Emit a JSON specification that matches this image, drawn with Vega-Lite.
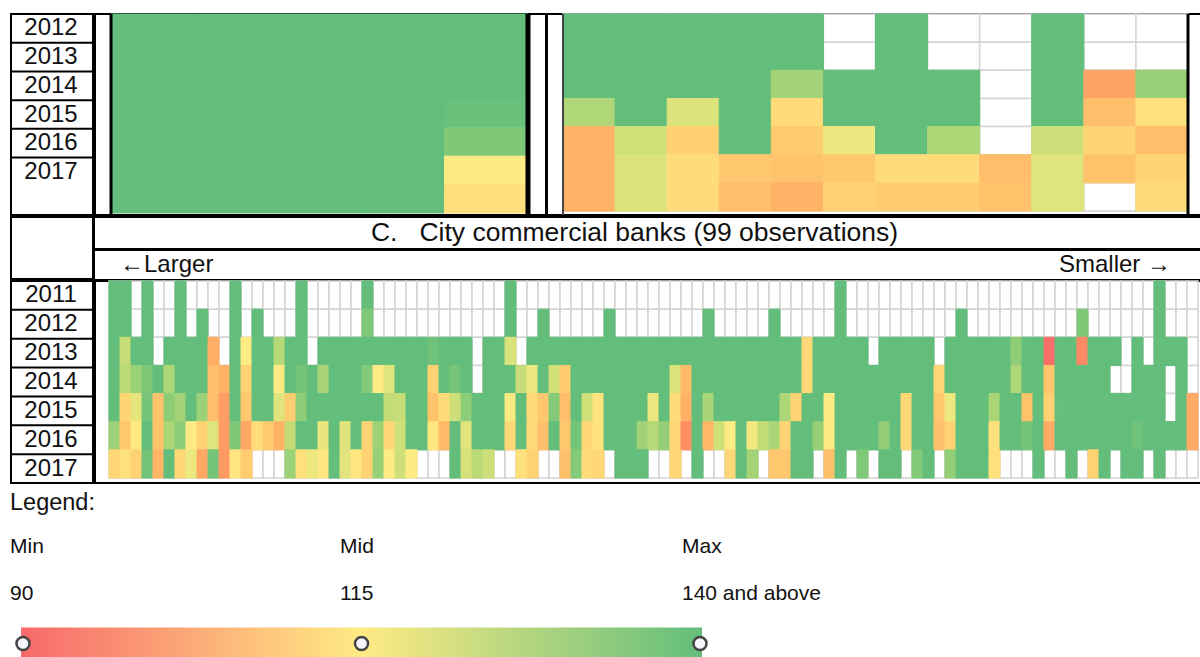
{"$schema":"https://vega.github.io/schema/vega-lite/v6.json","padding":{"left":9,"top":12,"right":0,"bottom":0},"spacing":-4,"background":"white","config":{"font":"Liberation Sans","view":{"stroke":null},"concat":{"spacing":-4},"axis":{"labels":false,"ticks":false,"domain":false,"title":null,"grid":false}},
"datasets":{
"a":[{"c":1,"y":2011,"v":140},{"c":2,"y":2011,"v":140},{"c":3,"y":2011,"v":140},{"c":4,"y":2011,"v":140},{"c":5,"y":2011,"v":140},{"c":1,"y":2012,"v":140},{"c":2,"y":2012,"v":140},{"c":3,"y":2012,"v":140},{"c":4,"y":2012,"v":140},{"c":5,"y":2012,"v":140},{"c":1,"y":2013,"v":140},{"c":2,"y":2013,"v":140},{"c":3,"y":2013,"v":140},{"c":4,"y":2013,"v":140},{"c":5,"y":2013,"v":140},{"c":1,"y":2014,"v":140},{"c":2,"y":2014,"v":140},{"c":3,"y":2014,"v":140},{"c":4,"y":2014,"v":140},{"c":5,"y":2014,"v":139},{"c":1,"y":2015,"v":140},{"c":2,"y":2015,"v":140},{"c":3,"y":2015,"v":140},{"c":4,"y":2015,"v":140},{"c":5,"y":2015,"v":135.5},{"c":1,"y":2016,"v":140},{"c":2,"y":2016,"v":140},{"c":3,"y":2016,"v":140},{"c":4,"y":2016,"v":140},{"c":5,"y":2016,"v":115},{"c":1,"y":2017,"v":140},{"c":2,"y":2017,"v":140},{"c":3,"y":2017,"v":140},{"c":4,"y":2017,"v":140},{"c":5,"y":2017,"v":112.5}],
"b":[{"c":1,"y":2011,"v":140},{"c":2,"y":2011,"v":140},{"c":3,"y":2011,"v":140},{"c":4,"y":2011,"v":140},{"c":5,"y":2011,"v":140},{"c":6,"y":2011},{"c":7,"y":2011,"v":140},{"c":8,"y":2011},{"c":9,"y":2011},{"c":10,"y":2011,"v":140},{"c":11,"y":2011},{"c":12,"y":2011},
{"c":1,"y":2012,"v":140},{"c":2,"y":2012,"v":140},{"c":3,"y":2012,"v":140},{"c":4,"y":2012,"v":140},{"c":5,"y":2012,"v":140},{"c":6,"y":2012},{"c":7,"y":2012,"v":140},{"c":8,"y":2012},{"c":9,"y":2012},{"c":10,"y":2012,"v":140},{"c":11,"y":2012},{"c":12,"y":2012},
{"c":1,"y":2013,"v":140},{"c":2,"y":2013,"v":140},{"c":3,"y":2013,"v":140},{"c":4,"y":2013,"v":140},{"c":5,"y":2013,"v":129.5},{"c":6,"y":2013,"v":140},{"c":7,"y":2013,"v":140},{"c":8,"y":2013,"v":140},{"c":9,"y":2013},{"c":10,"y":2013,"v":140},{"c":11,"y":2013,"v":101},{"c":12,"y":2013,"v":131.5},
{"c":1,"y":2014,"v":127.5},{"c":2,"y":2014,"v":140},{"c":3,"y":2014,"v":120.5},{"c":4,"y":2014,"v":140},{"c":5,"y":2014,"v":112},{"c":6,"y":2014,"v":140},{"c":7,"y":2014,"v":140},{"c":8,"y":2014,"v":140},{"c":9,"y":2014},{"c":10,"y":2014,"v":140},{"c":11,"y":2014,"v":106.3},{"c":12,"y":2014,"v":113},
{"c":1,"y":2015,"v":104},{"c":2,"y":2015,"v":122.5},{"c":3,"y":2015,"v":109.5},{"c":4,"y":2015,"v":140},{"c":5,"y":2015,"v":108.5},{"c":6,"y":2015,"v":118},{"c":7,"y":2015,"v":140},{"c":8,"y":2015,"v":128},{"c":9,"y":2015},{"c":10,"y":2015,"v":123},{"c":11,"y":2015,"v":110.5},{"c":12,"y":2015,"v":106},
{"c":1,"y":2016,"v":104},{"c":2,"y":2016,"v":120.5},{"c":3,"y":2016,"v":112},{"c":4,"y":2016,"v":108},{"c":5,"y":2016,"v":107},{"c":6,"y":2016,"v":108},{"c":7,"y":2016,"v":112},{"c":8,"y":2016,"v":112},{"c":9,"y":2016,"v":106},{"c":10,"y":2016,"v":120},{"c":11,"y":2016,"v":107},{"c":12,"y":2016,"v":110.5},
{"c":1,"y":2017,"v":103.7},{"c":2,"y":2017,"v":120.5},{"c":3,"y":2017,"v":112},{"c":4,"y":2017,"v":106},{"c":5,"y":2017,"v":104},{"c":6,"y":2017,"v":109.8},{"c":7,"y":2017,"v":109},{"c":8,"y":2017,"v":109},{"c":9,"y":2017,"v":107},{"c":10,"y":2017,"v":120},{"c":11,"y":2017},{"c":12,"y":2017,"v":112}],
"c":[{"c":1,"y":2011,"v":140},{"c":2,"y":2011,"v":140},{"c":3,"y":2011},{"c":4,"y":2011,"v":140},{"c":5,"y":2011},{"c":6,"y":2011},{"c":7,"y":2011,"v":140},{"c":8,"y":2011},{"c":9,"y":2011},{"c":10,"y":2011},{"c":11,"y":2011},{"c":12,"y":2011,"v":140},{"c":13,"y":2011},{"c":14,"y":2011},{"c":15,"y":2011},{"c":16,"y":2011},{"c":17,"y":2011},{"c":18,"y":2011,"v":140},{"c":19,"y":2011},{"c":20,"y":2011},{"c":21,"y":2011},{"c":22,"y":2011},{"c":23,"y":2011},{"c":24,"y":2011,"v":140},{"c":25,"y":2011},{"c":26,"y":2011},{"c":27,"y":2011},{"c":28,"y":2011},{"c":29,"y":2011},{"c":30,"y":2011},{"c":31,"y":2011},{"c":32,"y":2011},{"c":33,"y":2011},{"c":34,"y":2011},{"c":35,"y":2011},{"c":36,"y":2011},{"c":37,"y":2011,"v":140},{"c":38,"y":2011},{"c":39,"y":2011},{"c":40,"y":2011},{"c":41,"y":2011},{"c":42,"y":2011},{"c":43,"y":2011},{"c":44,"y":2011},{"c":45,"y":2011},{"c":46,"y":2011},{"c":47,"y":2011},{"c":48,"y":2011},{"c":49,"y":2011},{"c":50,"y":2011},{"c":51,"y":2011},{"c":52,"y":2011},{"c":53,"y":2011},{"c":54,"y":2011},{"c":55,"y":2011},{"c":56,"y":2011},{"c":57,"y":2011},{"c":58,"y":2011},{"c":59,"y":2011},{"c":60,"y":2011},{"c":61,"y":2011},{"c":62,"y":2011},{"c":63,"y":2011},{"c":64,"y":2011},{"c":65,"y":2011},{"c":66,"y":2011},{"c":67,"y":2011,"v":140},{"c":68,"y":2011},{"c":69,"y":2011},{"c":70,"y":2011},{"c":71,"y":2011},{"c":72,"y":2011},{"c":73,"y":2011},{"c":74,"y":2011},{"c":75,"y":2011},{"c":76,"y":2011},{"c":77,"y":2011},{"c":78,"y":2011},{"c":79,"y":2011},{"c":80,"y":2011},{"c":81,"y":2011},{"c":82,"y":2011},{"c":83,"y":2011},{"c":84,"y":2011},{"c":85,"y":2011},{"c":86,"y":2011},{"c":87,"y":2011},{"c":88,"y":2011},{"c":89,"y":2011},{"c":90,"y":2011},{"c":91,"y":2011},{"c":92,"y":2011},{"c":93,"y":2011},{"c":94,"y":2011},{"c":95,"y":2011},{"c":96,"y":2011,"v":140},{"c":97,"y":2011},{"c":98,"y":2011},{"c":99,"y":2011},
{"c":1,"y":2012,"v":140},{"c":2,"y":2012,"v":140},{"c":3,"y":2012},{"c":4,"y":2012,"v":140},{"c":5,"y":2012},{"c":6,"y":2012},{"c":7,"y":2012,"v":140},{"c":8,"y":2012},{"c":9,"y":2012,"v":140},{"c":10,"y":2012},{"c":11,"y":2012},{"c":12,"y":2012,"v":140},{"c":13,"y":2012},{"c":14,"y":2012,"v":140},{"c":15,"y":2012},{"c":16,"y":2012},{"c":17,"y":2012},{"c":18,"y":2012,"v":140},{"c":19,"y":2012},{"c":20,"y":2012},{"c":21,"y":2012},{"c":22,"y":2012},{"c":23,"y":2012},{"c":24,"y":2012,"v":135.5},{"c":25,"y":2012},{"c":26,"y":2012},{"c":27,"y":2012},{"c":28,"y":2012},{"c":29,"y":2012},{"c":30,"y":2012},{"c":31,"y":2012},{"c":32,"y":2012},{"c":33,"y":2012},{"c":34,"y":2012},{"c":35,"y":2012},{"c":36,"y":2012},{"c":37,"y":2012,"v":140},{"c":38,"y":2012},{"c":39,"y":2012},{"c":40,"y":2012,"v":140},{"c":41,"y":2012},{"c":42,"y":2012},{"c":43,"y":2012},{"c":44,"y":2012},{"c":45,"y":2012},{"c":46,"y":2012,"v":140},{"c":47,"y":2012},{"c":48,"y":2012},{"c":49,"y":2012},{"c":50,"y":2012},{"c":51,"y":2012},{"c":52,"y":2012},{"c":53,"y":2012},{"c":54,"y":2012},{"c":55,"y":2012,"v":140},{"c":56,"y":2012},{"c":57,"y":2012},{"c":58,"y":2012},{"c":59,"y":2012},{"c":60,"y":2012},{"c":61,"y":2012,"v":140},{"c":62,"y":2012},{"c":63,"y":2012},{"c":64,"y":2012},{"c":65,"y":2012},{"c":66,"y":2012},{"c":67,"y":2012,"v":140},{"c":68,"y":2012},{"c":69,"y":2012},{"c":70,"y":2012},{"c":71,"y":2012},{"c":72,"y":2012},{"c":73,"y":2012},{"c":74,"y":2012},{"c":75,"y":2012},{"c":76,"y":2012},{"c":77,"y":2012},{"c":78,"y":2012,"v":140},{"c":79,"y":2012},{"c":80,"y":2012},{"c":81,"y":2012},{"c":82,"y":2012},{"c":83,"y":2012},{"c":84,"y":2012},{"c":85,"y":2012},{"c":86,"y":2012},{"c":87,"y":2012},{"c":88,"y":2012},{"c":89,"y":2012,"v":135.5},{"c":90,"y":2012},{"c":91,"y":2012},{"c":92,"y":2012},{"c":93,"y":2012},{"c":94,"y":2012},{"c":95,"y":2012},{"c":96,"y":2012,"v":140},{"c":97,"y":2012},{"c":98,"y":2012},{"c":99,"y":2012},
{"c":1,"y":2013,"v":140},{"c":2,"y":2013,"v":124},{"c":3,"y":2013,"v":140},{"c":4,"y":2013,"v":140},{"c":5,"y":2013},{"c":6,"y":2013,"v":140},{"c":7,"y":2013,"v":140},{"c":8,"y":2013,"v":140},{"c":9,"y":2013,"v":140},{"c":10,"y":2013,"v":103},{"c":11,"y":2013},{"c":12,"y":2013,"v":140},{"c":13,"y":2013,"v":115},{"c":14,"y":2013,"v":140},{"c":15,"y":2013,"v":140},{"c":16,"y":2013,"v":126.5},{"c":17,"y":2013,"v":140},{"c":18,"y":2013,"v":140},{"c":19,"y":2013},{"c":20,"y":2013,"v":140},{"c":21,"y":2013,"v":140},{"c":22,"y":2013,"v":140},{"c":23,"y":2013,"v":140},{"c":24,"y":2013,"v":140},{"c":25,"y":2013,"v":140},{"c":26,"y":2013,"v":140},{"c":27,"y":2013,"v":140},{"c":28,"y":2013,"v":140},{"c":29,"y":2013,"v":140},{"c":30,"y":2013,"v":138},{"c":31,"y":2013,"v":140},{"c":32,"y":2013,"v":140},{"c":33,"y":2013,"v":140},{"c":34,"y":2013},{"c":35,"y":2013,"v":140},{"c":36,"y":2013,"v":140},{"c":37,"y":2013,"v":121},{"c":38,"y":2013},{"c":39,"y":2013,"v":140},{"c":40,"y":2013,"v":140},{"c":41,"y":2013,"v":140},{"c":42,"y":2013,"v":140},{"c":43,"y":2013,"v":140},{"c":44,"y":2013,"v":140},{"c":45,"y":2013,"v":140},{"c":46,"y":2013,"v":140},{"c":47,"y":2013,"v":140},{"c":48,"y":2013,"v":140},{"c":49,"y":2013,"v":140},{"c":50,"y":2013,"v":140},{"c":51,"y":2013,"v":140},{"c":52,"y":2013,"v":140},{"c":53,"y":2013,"v":140},{"c":54,"y":2013,"v":140},{"c":55,"y":2013,"v":140},{"c":56,"y":2013,"v":140},{"c":57,"y":2013,"v":140},{"c":58,"y":2013,"v":140},{"c":59,"y":2013,"v":140},{"c":60,"y":2013,"v":140},{"c":61,"y":2013,"v":140},{"c":62,"y":2013,"v":140},{"c":63,"y":2013,"v":140},{"c":64,"y":2013,"v":111},{"c":65,"y":2013,"v":140},{"c":66,"y":2013,"v":140},{"c":67,"y":2013,"v":140},{"c":68,"y":2013,"v":140},{"c":69,"y":2013,"v":140},{"c":70,"y":2013},{"c":71,"y":2013,"v":140},{"c":72,"y":2013,"v":140},{"c":73,"y":2013,"v":140},{"c":74,"y":2013,"v":140},{"c":75,"y":2013,"v":140},{"c":76,"y":2013},{"c":77,"y":2013,"v":140},{"c":78,"y":2013,"v":140},{"c":79,"y":2013,"v":140},{"c":80,"y":2013,"v":140},{"c":81,"y":2013,"v":140},{"c":82,"y":2013,"v":140},{"c":83,"y":2013,"v":133},{"c":84,"y":2013,"v":140},{"c":85,"y":2013,"v":140},{"c":86,"y":2013,"v":91},{"c":87,"y":2013,"v":140},{"c":88,"y":2013,"v":140},{"c":89,"y":2013,"v":96},{"c":90,"y":2013,"v":140},{"c":91,"y":2013,"v":140},{"c":92,"y":2013,"v":140},{"c":93,"y":2013},{"c":94,"y":2013,"v":140},{"c":95,"y":2013},{"c":96,"y":2013,"v":140},{"c":97,"y":2013,"v":140},{"c":98,"y":2013,"v":140},{"c":99,"y":2013},
{"c":1,"y":2014,"v":140},{"c":2,"y":2014,"v":126},{"c":3,"y":2014,"v":131},{"c":4,"y":2014,"v":135.5},{"c":5,"y":2014,"v":140},{"c":6,"y":2014,"v":128},{"c":7,"y":2014,"v":140},{"c":8,"y":2014,"v":140},{"c":9,"y":2014,"v":140},{"c":10,"y":2014,"v":106},{"c":11,"y":2014,"v":103.5},{"c":12,"y":2014,"v":140},{"c":13,"y":2014,"v":110},{"c":14,"y":2014,"v":140},{"c":15,"y":2014,"v":140},{"c":16,"y":2014,"v":115},{"c":17,"y":2014,"v":140},{"c":18,"y":2014,"v":137},{"c":19,"y":2014,"v":140},{"c":20,"y":2014,"v":128.5},{"c":21,"y":2014,"v":140},{"c":22,"y":2014,"v":140},{"c":23,"y":2014,"v":140},{"c":24,"y":2014,"v":134.5},{"c":25,"y":2014,"v":115},{"c":26,"y":2014,"v":120},{"c":27,"y":2014,"v":140},{"c":28,"y":2014,"v":140},{"c":29,"y":2014,"v":140},{"c":30,"y":2014,"v":110},{"c":31,"y":2014,"v":140},{"c":32,"y":2014,"v":137},{"c":33,"y":2014,"v":140},{"c":34,"y":2014},{"c":35,"y":2014,"v":140},{"c":36,"y":2014,"v":140},{"c":37,"y":2014,"v":140},{"c":38,"y":2014,"v":124},{"c":39,"y":2014,"v":118},{"c":40,"y":2014,"v":140},{"c":41,"y":2014,"v":122},{"c":42,"y":2014,"v":109},{"c":43,"y":2014,"v":140},{"c":44,"y":2014,"v":140},{"c":45,"y":2014,"v":140},{"c":46,"y":2014,"v":140},{"c":47,"y":2014,"v":140},{"c":48,"y":2014,"v":140},{"c":49,"y":2014,"v":140},{"c":50,"y":2014,"v":140},{"c":51,"y":2014,"v":140},{"c":52,"y":2014,"v":121},{"c":53,"y":2014,"v":105.5},{"c":54,"y":2014,"v":140},{"c":55,"y":2014,"v":140},{"c":56,"y":2014,"v":140},{"c":57,"y":2014,"v":140},{"c":58,"y":2014,"v":140},{"c":59,"y":2014,"v":140},{"c":60,"y":2014,"v":140},{"c":61,"y":2014,"v":140},{"c":62,"y":2014,"v":140},{"c":63,"y":2014,"v":140},{"c":64,"y":2014,"v":111},{"c":65,"y":2014,"v":140},{"c":66,"y":2014,"v":140},{"c":67,"y":2014,"v":140},{"c":68,"y":2014,"v":140},{"c":69,"y":2014,"v":140},{"c":70,"y":2014,"v":140},{"c":71,"y":2014,"v":140},{"c":72,"y":2014,"v":140},{"c":73,"y":2014,"v":140},{"c":74,"y":2014,"v":140},{"c":75,"y":2014,"v":140},{"c":76,"y":2014,"v":111},{"c":77,"y":2014,"v":140},{"c":78,"y":2014,"v":140},{"c":79,"y":2014,"v":140},{"c":80,"y":2014,"v":140},{"c":81,"y":2014,"v":140},{"c":82,"y":2014,"v":140},{"c":83,"y":2014,"v":128},{"c":84,"y":2014,"v":140},{"c":85,"y":2014,"v":140},{"c":86,"y":2014,"v":107.5},{"c":87,"y":2014,"v":140},{"c":88,"y":2014,"v":140},{"c":89,"y":2014,"v":140},{"c":90,"y":2014,"v":140},{"c":91,"y":2014,"v":140},{"c":92,"y":2014},{"c":93,"y":2014},{"c":94,"y":2014,"v":140},{"c":95,"y":2014,"v":140},{"c":96,"y":2014,"v":140},{"c":97,"y":2014},{"c":98,"y":2014,"v":140},{"c":99,"y":2014},
{"c":1,"y":2015,"v":140},{"c":2,"y":2015,"v":110.5},{"c":3,"y":2015,"v":119},{"c":4,"y":2015,"v":137},{"c":5,"y":2015,"v":107},{"c":6,"y":2015,"v":133},{"c":7,"y":2015,"v":129.5},{"c":8,"y":2015,"v":140},{"c":9,"y":2015,"v":131},{"c":10,"y":2015,"v":106},{"c":11,"y":2015,"v":100},{"c":12,"y":2015,"v":140},{"c":13,"y":2015,"v":108},{"c":14,"y":2015,"v":140},{"c":15,"y":2015,"v":140},{"c":16,"y":2015,"v":120},{"c":17,"y":2015,"v":109},{"c":18,"y":2015,"v":133},{"c":19,"y":2015,"v":140},{"c":20,"y":2015,"v":140},{"c":21,"y":2015,"v":140},{"c":22,"y":2015,"v":140},{"c":23,"y":2015,"v":140},{"c":24,"y":2015,"v":140},{"c":25,"y":2015,"v":140},{"c":26,"y":2015,"v":124.5},{"c":27,"y":2015,"v":124},{"c":28,"y":2015,"v":140},{"c":29,"y":2015,"v":140},{"c":30,"y":2015,"v":107},{"c":31,"y":2015,"v":112},{"c":32,"y":2015,"v":123},{"c":33,"y":2015,"v":133},{"c":34,"y":2015,"v":140},{"c":35,"y":2015,"v":140},{"c":36,"y":2015,"v":140},{"c":37,"y":2015,"v":116},{"c":38,"y":2015,"v":140},{"c":39,"y":2015,"v":111.5},{"c":40,"y":2015,"v":108},{"c":41,"y":2015,"v":134.5},{"c":42,"y":2015,"v":106},{"c":43,"y":2015,"v":140},{"c":44,"y":2015,"v":122.5},{"c":45,"y":2015,"v":113.5},{"c":46,"y":2015,"v":140},{"c":47,"y":2015,"v":140},{"c":48,"y":2015,"v":140},{"c":49,"y":2015,"v":140},{"c":50,"y":2015,"v":118},{"c":51,"y":2015,"v":140},{"c":52,"y":2015,"v":112},{"c":53,"y":2015,"v":103.7},{"c":54,"y":2015,"v":140},{"c":55,"y":2015,"v":128.5},{"c":56,"y":2015,"v":140},{"c":57,"y":2015,"v":140},{"c":58,"y":2015,"v":140},{"c":59,"y":2015,"v":140},{"c":60,"y":2015,"v":140},{"c":61,"y":2015,"v":140},{"c":62,"y":2015,"v":128},{"c":63,"y":2015,"v":110},{"c":64,"y":2015,"v":140},{"c":65,"y":2015,"v":140},{"c":66,"y":2015,"v":115},{"c":67,"y":2015,"v":140},{"c":68,"y":2015,"v":140},{"c":69,"y":2015,"v":140},{"c":70,"y":2015,"v":140},{"c":71,"y":2015,"v":140},{"c":72,"y":2015,"v":140},{"c":73,"y":2015,"v":111},{"c":74,"y":2015,"v":140},{"c":75,"y":2015,"v":140},{"c":76,"y":2015,"v":108},{"c":77,"y":2015,"v":118},{"c":78,"y":2015,"v":140},{"c":79,"y":2015,"v":140},{"c":80,"y":2015,"v":140},{"c":81,"y":2015,"v":128.5},{"c":82,"y":2015,"v":140},{"c":83,"y":2015,"v":140},{"c":84,"y":2015,"v":107},{"c":85,"y":2015,"v":140},{"c":86,"y":2015,"v":110},{"c":87,"y":2015,"v":139.5},{"c":88,"y":2015,"v":140},{"c":89,"y":2015,"v":140},{"c":90,"y":2015,"v":140},{"c":91,"y":2015,"v":140},{"c":92,"y":2015,"v":140},{"c":93,"y":2015,"v":140},{"c":94,"y":2015,"v":140},{"c":95,"y":2015,"v":140},{"c":96,"y":2015,"v":140},{"c":97,"y":2015},{"c":98,"y":2015,"v":140},{"c":99,"y":2015,"v":102.5},
{"c":1,"y":2016,"v":131},{"c":2,"y":2016,"v":108},{"c":3,"y":2016,"v":114.5},{"c":4,"y":2016,"v":140},{"c":5,"y":2016,"v":107},{"c":6,"y":2016,"v":128},{"c":7,"y":2016,"v":133},{"c":8,"y":2016,"v":115},{"c":9,"y":2016,"v":110},{"c":10,"y":2016,"v":120},{"c":11,"y":2016,"v":100},{"c":12,"y":2016,"v":135.5},{"c":13,"y":2016,"v":102},{"c":14,"y":2016,"v":112},{"c":15,"y":2016,"v":108.5},{"c":16,"y":2016,"v":104},{"c":17,"y":2016,"v":124.5},{"c":18,"y":2016,"v":140},{"c":19,"y":2016,"v":140},{"c":20,"y":2016,"v":118.5},{"c":21,"y":2016,"v":140},{"c":22,"y":2016,"v":120},{"c":23,"y":2016,"v":140},{"c":24,"y":2016,"v":110},{"c":25,"y":2016,"v":130.5},{"c":26,"y":2016,"v":111},{"c":27,"y":2016,"v":122.5},{"c":28,"y":2016,"v":140},{"c":29,"y":2016,"v":140},{"c":30,"y":2016,"v":114},{"c":31,"y":2016,"v":105.5},{"c":32,"y":2016,"v":140},{"c":33,"y":2016,"v":119.5},{"c":34,"y":2016,"v":140},{"c":35,"y":2016,"v":140},{"c":36,"y":2016,"v":140},{"c":37,"y":2016,"v":111},{"c":38,"y":2016,"v":140},{"c":39,"y":2016,"v":111.5},{"c":40,"y":2016,"v":106.5},{"c":41,"y":2016,"v":140},{"c":42,"y":2016,"v":108},{"c":43,"y":2016,"v":137.5},{"c":44,"y":2016,"v":111},{"c":45,"y":2016,"v":113.5},{"c":46,"y":2016,"v":140},{"c":47,"y":2016,"v":140},{"c":48,"y":2016,"v":140},{"c":49,"y":2016,"v":130},{"c":50,"y":2016,"v":126.5},{"c":51,"y":2016,"v":132},{"c":52,"y":2016,"v":111},{"c":53,"y":2016,"v":97},{"c":54,"y":2016,"v":140},{"c":55,"y":2016,"v":104.5},{"c":56,"y":2016,"v":122.5},{"c":57,"y":2016,"v":115},{"c":58,"y":2016,"v":140},{"c":59,"y":2016,"v":117},{"c":60,"y":2016,"v":124.5},{"c":61,"y":2016,"v":128.5},{"c":62,"y":2016,"v":110},{"c":63,"y":2016,"v":140},{"c":64,"y":2016,"v":140},{"c":65,"y":2016,"v":131.5},{"c":66,"y":2016,"v":115},{"c":67,"y":2016,"v":140},{"c":68,"y":2016,"v":140},{"c":69,"y":2016,"v":140},{"c":70,"y":2016,"v":140},{"c":71,"y":2016,"v":132},{"c":72,"y":2016,"v":140},{"c":73,"y":2016,"v":111},{"c":74,"y":2016,"v":140},{"c":75,"y":2016,"v":140},{"c":76,"y":2016,"v":106.5},{"c":77,"y":2016,"v":110},{"c":78,"y":2016,"v":140},{"c":79,"y":2016,"v":140},{"c":80,"y":2016,"v":140},{"c":81,"y":2016,"v":113},{"c":82,"y":2016,"v":140},{"c":83,"y":2016,"v":140},{"c":84,"y":2016,"v":137},{"c":85,"y":2016,"v":140},{"c":86,"y":2016,"v":102.5},{"c":87,"y":2016,"v":140},{"c":88,"y":2016,"v":140},{"c":89,"y":2016,"v":140},{"c":90,"y":2016,"v":140},{"c":91,"y":2016,"v":140},{"c":92,"y":2016,"v":140},{"c":93,"y":2016,"v":140},{"c":94,"y":2016,"v":138},{"c":95,"y":2016,"v":140},{"c":96,"y":2016,"v":140},{"c":97,"y":2016,"v":140},{"c":98,"y":2016,"v":140},{"c":99,"y":2016,"v":102.5},
{"c":1,"y":2017,"v":111},{"c":2,"y":2017,"v":113},{"c":3,"y":2017,"v":110},{"c":4,"y":2017,"v":137.5},{"c":5,"y":2017,"v":104.5},{"c":6,"y":2017,"v":140},{"c":7,"y":2017,"v":111},{"c":8,"y":2017,"v":118},{"c":9,"y":2017,"v":102},{"c":10,"y":2017,"v":137},{"c":11,"y":2017,"v":99},{"c":12,"y":2017,"v":114},{"c":13,"y":2017,"v":109},{"c":14,"y":2017},{"c":15,"y":2017},{"c":16,"y":2017},{"c":17,"y":2017,"v":131},{"c":18,"y":2017,"v":113},{"c":19,"y":2017,"v":118},{"c":20,"y":2017,"v":114},{"c":21,"y":2017,"v":140},{"c":22,"y":2017,"v":119.5},{"c":23,"y":2017,"v":114},{"c":24,"y":2017,"v":110},{"c":25,"y":2017,"v":131.5},{"c":26,"y":2017,"v":115},{"c":27,"y":2017,"v":122.5},{"c":28,"y":2017,"v":115},{"c":29,"y":2017},{"c":30,"y":2017},{"c":31,"y":2017},{"c":32,"y":2017,"v":140},{"c":33,"y":2017,"v":121.5},{"c":34,"y":2017,"v":126},{"c":35,"y":2017,"v":123},{"c":36,"y":2017},{"c":37,"y":2017},{"c":38,"y":2017,"v":113},{"c":39,"y":2017,"v":110},{"c":40,"y":2017},{"c":41,"y":2017},{"c":42,"y":2017,"v":106.5},{"c":43,"y":2017,"v":134.5},{"c":44,"y":2017,"v":112},{"c":45,"y":2017,"v":111},{"c":46,"y":2017},{"c":47,"y":2017,"v":140},{"c":48,"y":2017,"v":140},{"c":49,"y":2017,"v":140},{"c":50,"y":2017},{"c":51,"y":2017},{"c":52,"y":2017,"v":111},{"c":53,"y":2017},{"c":54,"y":2017,"v":140},{"c":55,"y":2017},{"c":56,"y":2017},{"c":57,"y":2017,"v":111},{"c":58,"y":2017,"v":140},{"c":59,"y":2017,"v":129.5},{"c":60,"y":2017},{"c":61,"y":2017,"v":108},{"c":62,"y":2017,"v":108},{"c":63,"y":2017,"v":140},{"c":64,"y":2017,"v":140},{"c":65,"y":2017},{"c":66,"y":2017,"v":106.5},{"c":67,"y":2017,"v":140},{"c":68,"y":2017},{"c":69,"y":2017,"v":135.5},{"c":70,"y":2017},{"c":71,"y":2017,"v":140},{"c":72,"y":2017,"v":140},{"c":73,"y":2017},{"c":74,"y":2017,"v":135},{"c":75,"y":2017,"v":140},{"c":76,"y":2017},{"c":77,"y":2017,"v":132},{"c":78,"y":2017,"v":140},{"c":79,"y":2017,"v":140},{"c":80,"y":2017,"v":140},{"c":81,"y":2017,"v":113},{"c":82,"y":2017},{"c":83,"y":2017},{"c":84,"y":2017},{"c":85,"y":2017,"v":140},{"c":86,"y":2017},{"c":87,"y":2017},{"c":88,"y":2017,"v":140},{"c":89,"y":2017},{"c":90,"y":2017,"v":110},{"c":91,"y":2017,"v":140},{"c":92,"y":2017},{"c":93,"y":2017,"v":140},{"c":94,"y":2017,"v":140},{"c":95,"y":2017},{"c":96,"y":2017,"v":140},{"c":97,"y":2017},{"c":98,"y":2017},{"c":99,"y":2017}]},
"vconcat":[
{"spacing":-4,"hconcat":[
{"width":82,"height":201,"view":{"stroke":"black","strokeWidth":2},"data":{"values":[{"year":"2012"},{"year":"2013"},{"year":"2014"},{"year":"2015"},{"year":"2016"},{"year":"2017"}]},
"encoding":{"y":{"field":"year","type":"nominal","scale":{"type":"band","domain":["2012","2013","2014","2015","2016","2017","2018"]},"axis":null}},
"layer":[{"mark":{"type":"text","fontSize":24,"color":"#111","dx":-1},"encoding":{"text":{"field":"year"}}},{"transform":[{"filter":"datum.year != '2017'"}],"mark":{"type":"rule","color":"black","strokeWidth":2},"encoding":{"y":{"field":"year","type":"nominal","bandPosition":1}}}]},
{"width":451,"height":201,"view":{"stroke":"black","strokeWidth":2},
"layer":[{"data":{"name":"a"},"mark":{"type":"rect","strokeWidth":1},"encoding":{"x":{"field":"c","type":"ordinal","axis":null,"scale":{"type":"band","domain":[1,2,3,4,5],"range":[16,433]}},"y":{"field":"y","type":"ordinal","axis":null,"scale":{"type":"band","domain":[2011,2012,2013,2014,2015,2016,2017],"range":[0,199]}},"color":{"field":"v","type":"quantitative","legend":null,"scale":{"domain":[90,115,140],"range":["#f8696b","#ffeb84","#63be7b"],"clamp":true}},"stroke":{"field":"v","type":"quantitative","legend":null,"scale":{"domain":[90,115,140],"range":["#f8696b","#ffeb84","#63be7b"],"clamp":true}}}},
{"data":{"values":[{"c":1}]},"mark":{"type":"rule","color":"black","strokeWidth":2,"xOffset":-0.5},"encoding":{"x":{"field":"c","type":"ordinal","bandPosition":0}}},
{"data":{"values":[{"c":1}]},"mark":{"type":"rule","color":"black","strokeWidth":2,"xOffset":0.5},"encoding":{"x":{"field":"c","type":"ordinal","bandPosition":0}}},
{"data":{"values":[{"c":5}]},"mark":{"type":"rule","color":"black","strokeWidth":2,"xOffset":-1.5},"encoding":{"x":{"field":"c","type":"ordinal","bandPosition":1}}},
{"data":{"values":[{"c":5}]},"mark":{"type":"rule","color":"black","strokeWidth":2,"xOffset":0},"encoding":{"x":{"field":"c","type":"ordinal","bandPosition":1}}},
{"data":{"values":[{"c":5}]},"mark":{"type":"rule","color":"black","strokeWidth":2,"xOffset":1.5},"encoding":{"x":{"field":"c","type":"ordinal","bandPosition":1}}}]},
{"width":654,"height":201,"view":{"stroke":"black","strokeWidth":2},
"layer":[{"data":{"name":"b"},"mark":{"type":"rect","fill":"white","stroke":"#d4d4d4","strokeWidth":1.5},"encoding":{"x":{"field":"c","type":"ordinal","axis":null,"scale":{"type":"band","domain":[1,2,3,4,5,6,7,8,9,10,11,12],"range":[16,641]}},"y":{"field":"y","type":"ordinal","axis":null,"scale":{"type":"band","domain":[2011,2012,2013,2014,2015,2016,2017],"range":[0,197]}}}},
{"data":{"name":"b"},"transform":[{"filter":"isValid(datum.v)"}],"mark":{"type":"rect","strokeWidth":1},"encoding":{"x":{"field":"c","type":"ordinal"},"y":{"field":"y","type":"ordinal"},"color":{"field":"v","type":"quantitative","legend":null,"scale":{"domain":[90,115,140],"range":["#f8696b","#ffeb84","#63be7b"],"clamp":true}},"stroke":{"field":"v","type":"quantitative","legend":null,"scale":{"domain":[90,115,140],"range":["#f8696b","#ffeb84","#63be7b"],"clamp":true}}}},
{"data":{"values":[{"c":1}]},"mark":{"type":"rule","color":"#444","strokeWidth":2},"encoding":{"x":{"field":"c","type":"ordinal","bandPosition":0}}},
{"data":{"values":[{"c":12}]},"mark":{"type":"rule","color":"black","strokeWidth":2,"xOffset":-0.5},"encoding":{"x":{"field":"c","type":"ordinal","bandPosition":1}}},
{"data":{"values":[{"c":12}]},"mark":{"type":"rule","color":"black","strokeWidth":2,"xOffset":0.5},"encoding":{"x":{"field":"c","type":"ordinal","bandPosition":1}}}]}
]},
{"spacing":-4,"hconcat":[
{"width":82,"height":62,"view":{"stroke":"black","strokeWidth":2},"data":{"values":[{"cell":"blank"}]},"mark":{"type":"rule","opacity":0},"encoding":{}},
{"spacing":-4,"vconcat":[
{"width":1107,"height":32,"view":{"stroke":"black","strokeWidth":2},"data":{"values":[{"label":"C.\u00a0\u00a0\u00a0City commercial banks (99 observations)"}]},"mark":{"type":"text","fontSize":26.5,"dx":-13,"color":"#111"},"encoding":{"text":{"field":"label"}}},
{"width":1107,"height":30,"view":{"stroke":"black","strokeWidth":2},"data":{"values":[{"side":"larger","label":"←Larger"},{"side":"smaller","label":"Smaller →"}]},"encoding":{"x":{"field":"side","type":"nominal","axis":null,"scale":{"type":"point","padding":0,"domain":["larger","smaller"],"range":[26,1077]}},"text":{"field":"label"}},
"layer":[{"transform":[{"filter":"datum.side == 'larger'"}],"mark":{"type":"text","fontSize":24,"align":"left","color":"#111"}},{"transform":[{"filter":"datum.side == 'smaller'"}],"mark":{"type":"text","fontSize":24,"align":"right","color":"#111"}}]}
]}
]},
{"spacing":-4,"hconcat":[
{"width":82,"height":202,"view":{"stroke":"black","strokeWidth":2},"data":{"values":[{"year":"2011"},{"year":"2012"},{"year":"2013"},{"year":"2014"},{"year":"2015"},{"year":"2016"},{"year":"2017"}]},
"encoding":{"y":{"field":"year","type":"nominal","axis":null,"scale":{"type":"band"}}},
"layer":[{"mark":{"type":"text","fontSize":24,"color":"#111","dx":-1},"encoding":{"text":{"field":"year"}}},{"transform":[{"filter":"datum.year != '2017'"}],"mark":{"type":"rule","color":"black","strokeWidth":2},"encoding":{"y":{"field":"year","type":"nominal","bandPosition":1}}}]},
{"width":1107,"height":202,"view":{"stroke":"black","strokeWidth":2},
"layer":[{"data":{"name":"c"},"mark":{"type":"rect","fill":"white","stroke":"#d4d4d4","strokeWidth":1.5},"encoding":{"x":{"field":"c","type":"ordinal","axis":null,"scale":{"type":"band","range":[14,1103]}},"y":{"field":"y","type":"ordinal","axis":null,"scale":{"type":"band","domain":[2011,2012,2013,2014,2015,2016,2017],"range":[0,197]}}}},
{"data":{"name":"c"},"transform":[{"filter":"isValid(datum.v)"}],"mark":{"type":"rect","strokeWidth":1},"encoding":{"x":{"field":"c","type":"ordinal"},"y":{"field":"y","type":"ordinal"},"color":{"field":"v","type":"quantitative","legend":null,"scale":{"domain":[90,115,140],"range":["#f8696b","#ffeb84","#63be7b"],"clamp":true}},"stroke":{"field":"v","type":"quantitative","legend":null,"scale":{"domain":[90,115,140],"range":["#f8696b","#ffeb84","#63be7b"],"clamp":true}}}}]}
]},
{"width":1189,"height":175,"resolve":{"scale":{"x":"independent"}},
"encoding":{"y":{"field":"line","type":"nominal","axis":null,"scale":{"type":"point","padding":0,"domain":["head","names","values","bar"],"range":[18.5,159.5]}}},
"layer":[
{"data":{"values":[{"slot":"min","line":"head","label":"Legend:"}]},"mark":{"type":"text","fontSize":23.5,"align":"left","color":"#111"},"encoding":{"x":{"field":"slot","type":"nominal","axis":null,"scale":{"type":"point","padding":0,"domain":["min","mid","max"],"range":[-1,671]}},"text":{"field":"label"}}},
{"data":{"values":[{"slot":"min","line":"names","label":"Min"},{"slot":"max","line":"names","label":"Max"},{"slot":"min","line":"values","label":"90"},{"slot":"max","line":"values","label":"140 and above"}]},"mark":{"type":"text","fontSize":21,"align":"left","dy":-2.5,"color":"#111"},"encoding":{"x":{"field":"slot","type":"nominal","axis":null,"scale":{"type":"point","padding":0,"domain":["min","mid","max"],"range":[-1,671]}},"text":{"field":"label"}}},
{"data":{"values":[{"slot":"mid","line":"names","label":"Mid"},{"slot":"mid","line":"values","label":"115"}]},"mark":{"type":"text","fontSize":21,"align":"left","dy":-2.5,"dx":-6,"color":"#111"},"encoding":{"x":{"field":"slot","type":"nominal","axis":null,"scale":{"type":"point","padding":0,"domain":["min","mid","max"],"range":[-1,671]}},"text":{"field":"label"}}},
{"data":{"values":[{"from":90,"to":140,"line":"bar"}]},"mark":{"type":"rect","height":32,"color":{"x1":0,"x2":1,"y1":0,"y2":0,"gradient":"linear","stops":[{"offset":0,"color":"#f8696b"},{"offset":0.5,"color":"#ffeb84"},{"offset":1,"color":"#63be7b"}]}},"encoding":{"x":{"field":"from","type":"quantitative","axis":null,"scale":{"domain":[90,140],"range":[10,691]}},"x2":{"field":"to"}}},
{"data":{"values":[{"point":90,"line":"bar"},{"point":115,"line":"bar"},{"point":140,"line":"bar"}]},"mark":{"type":"point","filled":false,"size":170,"fill":"#f4f6fb","fillOpacity":1,"stroke":"#444","strokeWidth":2.5,"opacity":1},"encoding":{"x":{"field":"point","type":"quantitative","axis":null,"scale":{"domain":[90,140],"range":[12,689]}}}}
]}
]}
